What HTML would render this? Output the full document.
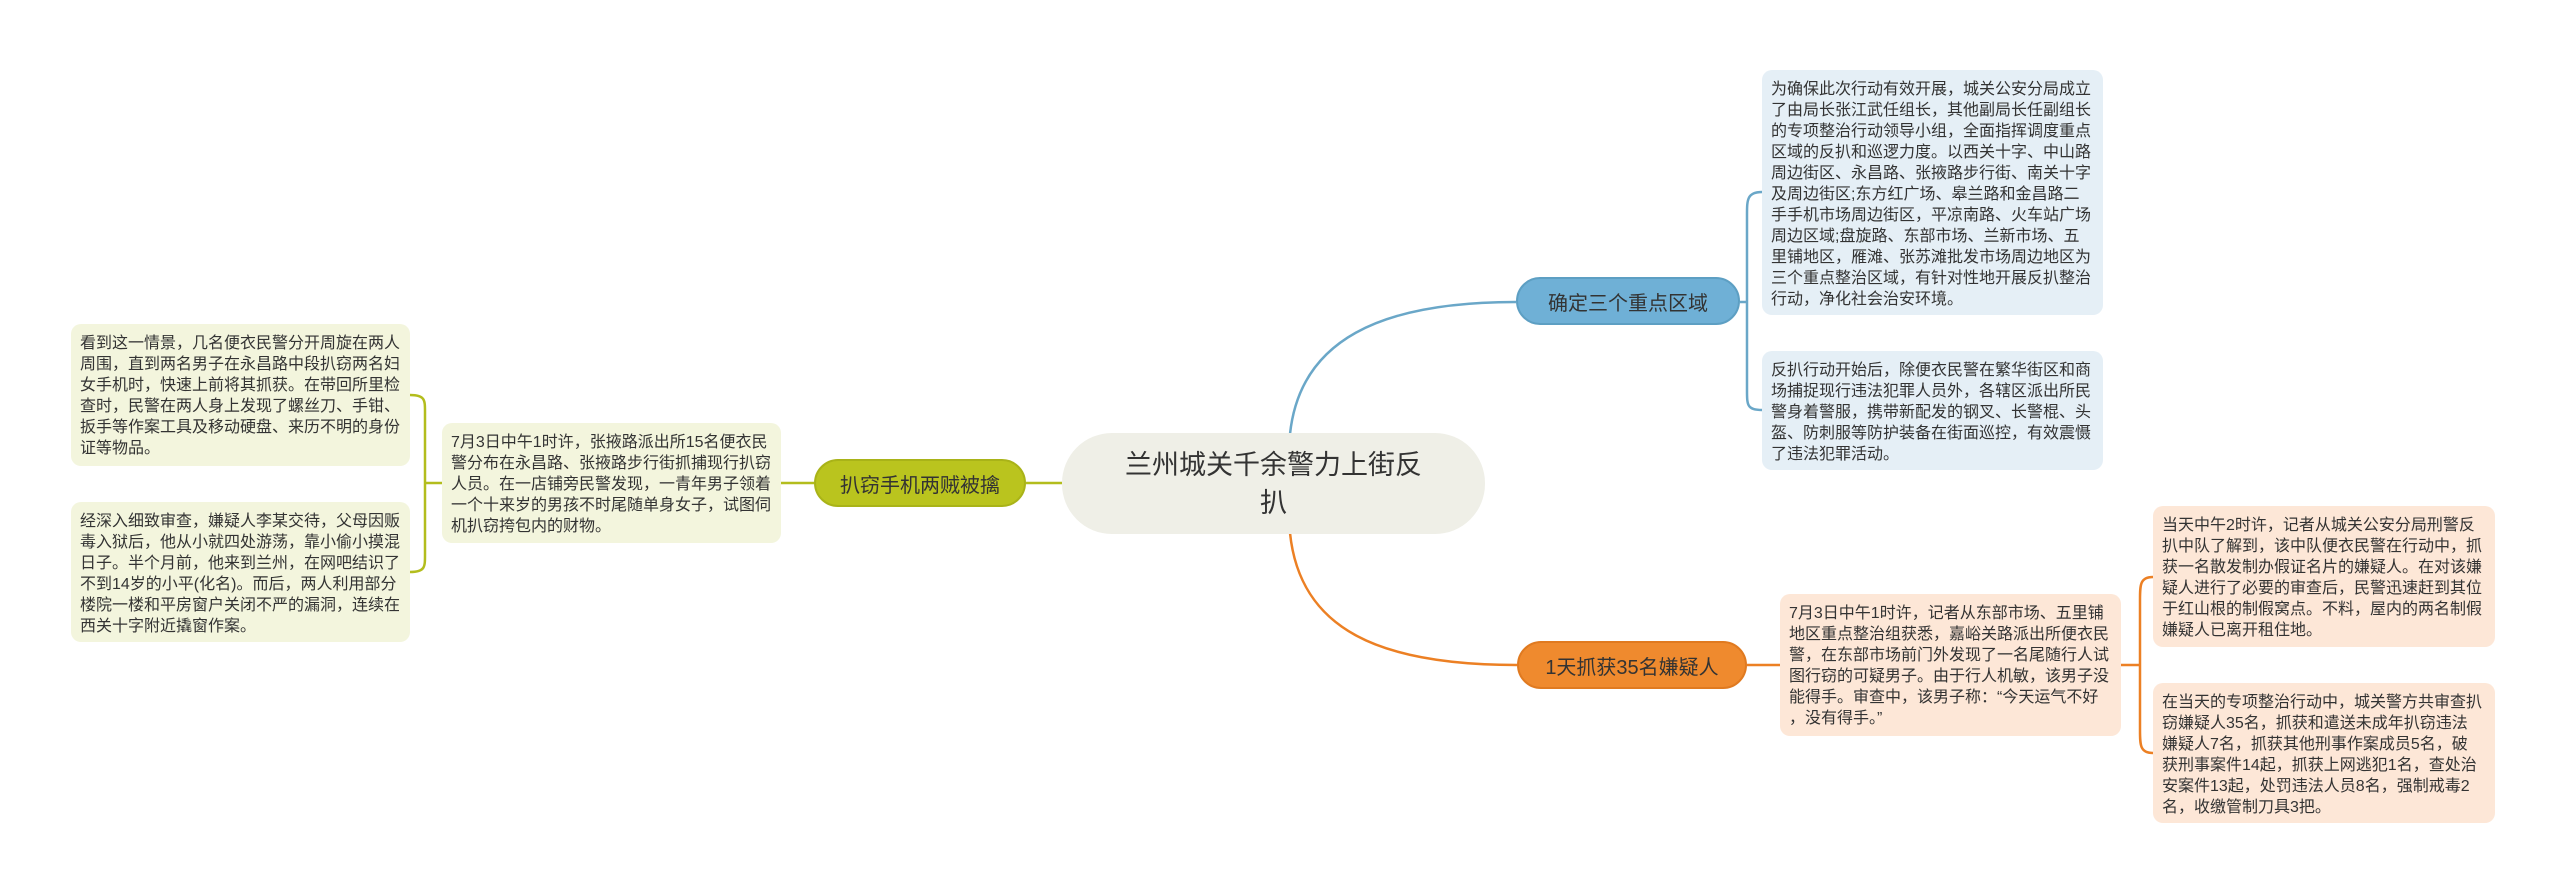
<!DOCTYPE html>
<html><head><meta charset="utf-8"><style>
body{margin:0;width:2560px;height:894px;background:#fff;position:relative;overflow:hidden;font-family:"Liberation Sans","Noto Sans CJK SC",sans-serif;}
.b{position:absolute;box-sizing:border-box;border-radius:10px;color:#333;font-size:16px;line-height:21px;padding:9px 9px;white-space:nowrap;}
.n{position:absolute;box-sizing:border-box;border-radius:26px;display:flex;align-items:center;justify-content:center;font-size:20px;color:#333;}
svg{position:absolute;left:0;top:0;}
</style></head><body>
<svg width="2560" height="894" fill="none" stroke-width="2.5">
<path d="M1290 434 C1300 340 1380 302 1516 302" stroke="#6aa7c8"/>
<path d="M1740 302 L1747 302" stroke="#6aa7c8"/>
<path d="M1762 192 C1747 192 1747 200 1747 215 L1747 390 C1747 405 1747 410 1762 410" stroke="#6aa7c8"/>
<path d="M1290 533 C1300 630 1380 665 1517 665" stroke="#ec8024"/>
<path d="M1747 665 L1780 665 M2121 665 L2140 665" stroke="#ec8024"/>
<path d="M2153 577 C2140 577 2140 585 2140 600 L2140 730 C2140 745 2140 753 2153 753" stroke="#ec8024"/>
<path d="M1062 483 L1026 483 M814 483 L781 483 M442 483 L425 483" stroke="#b3bd1d"/>
<path d="M410 395 C425 395 425 400 425 412 L425 555 C425 567 425 572 410 572" stroke="#b3bd1d"/>
</svg>
<div class="n" style="left:1062px;top:433px;width:423px;height:101px;border-radius:50px;background:#efefe7;font-size:27px;line-height:38px;text-align:center;">兰州城关千余警力上街反<br>扒</div>
<div class="n" style="left:1516px;top:277px;width:224px;height:48px;background:#6fb0d6;border:2px solid #5d9fc3;">确定三个重点区域</div>
<div class="n" style="left:1517px;top:641px;width:230px;height:48px;background:#ef8a2e;border:2px solid #e07a20;">1天抓获35名嫌疑人</div>
<div class="n" style="left:814px;top:459px;width:212px;height:48px;background:#bac41e;border:2px solid #a9b318;">扒窃手机两贼被擒</div>
<div class="b" style="left:1762px;top:70px;width:341px;height:245px;background:#e5eff6;">为确保此次行动有效开展，城关公安分局成立<br>了由局长张江武任组长，其他副局长任副组长<br>的专项整治行动领导小组，全面指挥调度重点<br>区域的反扒和巡逻力度。以西关十字、中山路<br>周边街区、永昌路、张掖路步行街、南关十字<br>及周边街区;东方红广场、皋兰路和金昌路二<br>手手机市场周边街区，平凉南路、火车站广场<br>周边区域;盘旋路、东部市场、兰新市场、五<br>里铺地区，雁滩、张苏滩批发市场周边地区为<br>三个重点整治区域，有针对性地开展反扒整治<br>行动，净化社会治安环境。</div>
<div class="b" style="left:1762px;top:351px;width:341px;height:119px;background:#e5eff6;">反扒行动开始后，除便衣民警在繁华街区和商<br>场捕捉现行违法犯罪人员外，各辖区派出所民<br>警身着警服，携带新配发的钢叉、长警棍、头<br>盔、防刺服等防护装备在街面巡控，有效震慑<br>了违法犯罪活动。</div>
<div class="b" style="left:1780px;top:594px;width:341px;height:142px;background:#fde7d7;">7月3日中午1时许，记者从东部市场、五里铺<br>地区重点整治组获悉，嘉峪关路派出所便衣民<br>警，在东部市场前门外发现了一名尾随行人试<br>图行窃的可疑男子。由于行人机敏，该男子没<br>能得手。审查中，该男子称：“今天运气不好<br>，没有得手。”</div>
<div class="b" style="left:2153px;top:506px;width:342px;height:141px;background:#fde7d7;">当天中午2时许，记者从城关公安分局刑警反<br>扒中队了解到，该中队便衣民警在行动中，抓<br>获一名散发制办假证名片的嫌疑人。在对该嫌<br>疑人进行了必要的审查后，民警迅速赶到其位<br>于红山根的制假窝点。不料，屋内的两名制假<br>嫌疑人已离开租住地。</div>
<div class="b" style="left:2153px;top:683px;width:342px;height:140px;background:#fde7d7;">在当天的专项整治行动中，城关警方共审查扒<br>窃嫌疑人35名，抓获和遣送未成年扒窃违法<br>嫌疑人7名，抓获其他刑事作案成员5名，破<br>获刑事案件14起，抓获上网逃犯1名，查处治<br>安案件13起，处罚违法人员8名，强制戒毒2<br>名，收缴管制刀具3把。</div>
<div class="b" style="left:442px;top:423px;width:339px;height:120px;background:#f3f5dd;">7月3日中午1时许，张掖路派出所15名便衣民<br>警分布在永昌路、张掖路步行街抓捕现行扒窃<br>人员。在一店铺旁民警发现，一青年男子领着<br>一个十来岁的男孩不时尾随单身女子，试图伺<br>机扒窃挎包内的财物。</div>
<div class="b" style="left:71px;top:324px;width:339px;height:142px;background:#f3f5dd;">看到这一情景，几名便衣民警分开周旋在两人<br>周围，直到两名男子在永昌路中段扒窃两名妇<br>女手机时，快速上前将其抓获。在带回所里检<br>查时，民警在两人身上发现了螺丝刀、手钳、<br>扳手等作案工具及移动硬盘、来历不明的身份<br>证等物品。</div>
<div class="b" style="left:71px;top:502px;width:339px;height:140px;background:#f3f5dd;">经深入细致审查，嫌疑人李某交待，父母因贩<br>毒入狱后，他从小就四处游荡，靠小偷小摸混<br>日子。半个月前，他来到兰州，在网吧结识了<br>不到14岁的小平(化名)。而后，两人利用部分<br>楼院一楼和平房窗户关闭不严的漏洞，连续在<br>西关十字附近撬窗作案。</div>
</body></html>
